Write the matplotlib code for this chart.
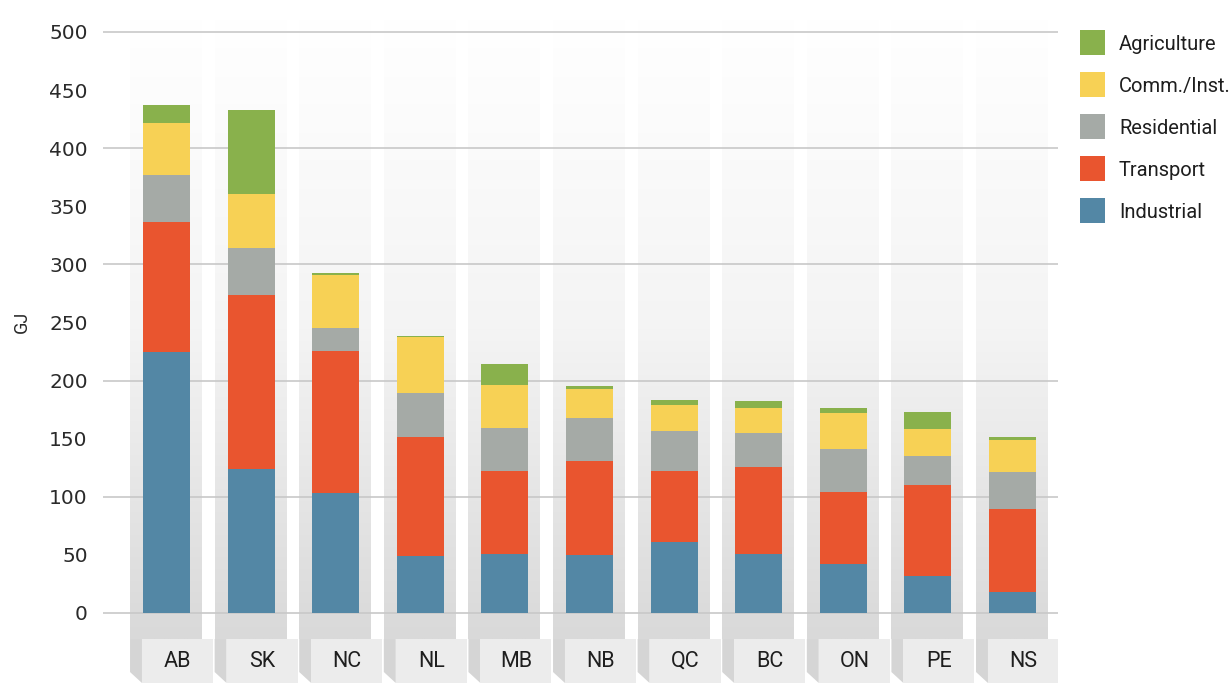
import matplotlib
matplotlib.use('Agg')
import matplotlib.pyplot as plt
import numpy as np
from matplotlib.colors import LinearSegmentedColormap
from matplotlib.patches import Rectangle, Polygon

# data (GJ)
provinces = ['AB', 'SK', 'NC', 'NL', 'MB', 'NB', 'QC', 'BC', 'ON', 'PE', 'NS']
industrial = [224.6, 123.9, 103.0, 49.3, 51.0, 49.9, 61.4, 51.0, 42.4, 32.1, 18.3]
transport = [111.9, 149.8, 122.5, 102.2, 71.2, 80.9, 60.8, 74.6, 61.7, 78.1, 71.2]
residential = [40.4, 40.7, 19.8, 37.8, 37.0, 37.0, 34.4, 29.3, 37.0, 24.9, 31.8]
comm_inst = [44.8, 46.2, 45.7, 48.2, 37.0, 25.0, 22.4, 21.5, 31.0, 23.2, 27.6]
agriculture = [15.5, 72.3, 1.6, 1.1, 18.1, 2.6, 4.3, 6.0, 4.3, 14.7, 2.6]

series = [('Industrial', industrial, '#5387a5'),
          ('Transport', transport, '#e9552f'),
          ('Residential', residential, '#a5aaa6'),
          ('Comm./Inst.', comm_inst, '#f7d155'),
          ('Agriculture', agriculture, '#89b14c')]

narrow = 'Roboto'

W, H = 1230, 683
fig = plt.figure(figsize=(W / 100, H / 100), dpi=100)
# axes spans pixel x 103..1058, y 20..683 (top..bottom)
ax = fig.add_axes([103 / W, 0, (1058 - 103) / W, (683 - 20) / H])
for s in ax.spines.values():
    s.set_visible(False)

x = np.arange(len(provinces))
y_lab_top, y_bot, y_side = -22.4, -60.24, -50.8
col_l, col_r = -0.431, 0.42
box_l, box_r = -0.29, 0.55

grad = LinearSegmentedColormap.from_list('g', ['#ffffff', '#f4f4f4', '#d9d9d9'])
gimg = np.linspace(0, 1, 256).reshape(-1, 1)
for i in x:
    ax.imshow(gimg, cmap=grad, aspect='auto', origin='upper',
              extent=(i + col_l, i + col_r, y_lab_top, 510.3), zorder=0)
    ax.add_patch(Polygon([(i + col_l, y_lab_top), (i + box_l, y_lab_top),
                          (i + box_l, y_bot), (i + col_l, y_side)],
                         closed=True, facecolor='#d5d5d5', edgecolor='none', zorder=0))
    ax.add_patch(Rectangle((i + box_l, y_bot), box_r - box_l, y_lab_top - y_bot,
                           facecolor='#ececec', edgecolor='none', zorder=0.5))
    ax.text(i + (box_l + box_r) / 2, (y_lab_top + y_bot) / 2, provinces[i],
            ha='center', va='center', fontsize=15.5, color='#1e1e1e', family=narrow)

for g in range(0, 501, 100):
    ax.axhline(g, color='#c8c8c8', linewidth=1.2, zorder=1)

bottom = np.zeros(len(provinces))
for name, vals, color in series:
    ax.bar(x, vals, width=0.556, bottom=bottom, color=color, zorder=2, linewidth=0)
    bottom += np.array(vals)

ax.set_xticks([])
ax.set_yticks(range(0, 501, 50))
ax.tick_params(axis='y', length=0, pad=11, labelsize=14.5, labelcolor='#2a2a2a')
ax.set_xlim(-0.7506, 10.538)
ax.set_ylim(-60.24, 510.3)
fig.text(22 / W, 1 - 322 / H, 'GJ', rotation=90, ha='center', va='center',
         fontsize=13, color='#2a2a2a', family=narrow)

# legend, top entry = top of stack
for k, (name, vals, color) in enumerate(series[::-1]):
    yc = 42.5 + 42 * k
    fig.patches.append(Rectangle((1080 / W, 1 - (yc + 12.5) / H), 25 / W, 25 / H,
                                 transform=fig.transFigure, facecolor=color,
                                 edgecolor='none'))
    fig.text(1119 / W, 1 - (yc + 2) / H, name, ha='left', va='center', fontsize=14.5,
             color='#1e1e1e', family=narrow)

fig.savefig('out.png', dpi=100)
